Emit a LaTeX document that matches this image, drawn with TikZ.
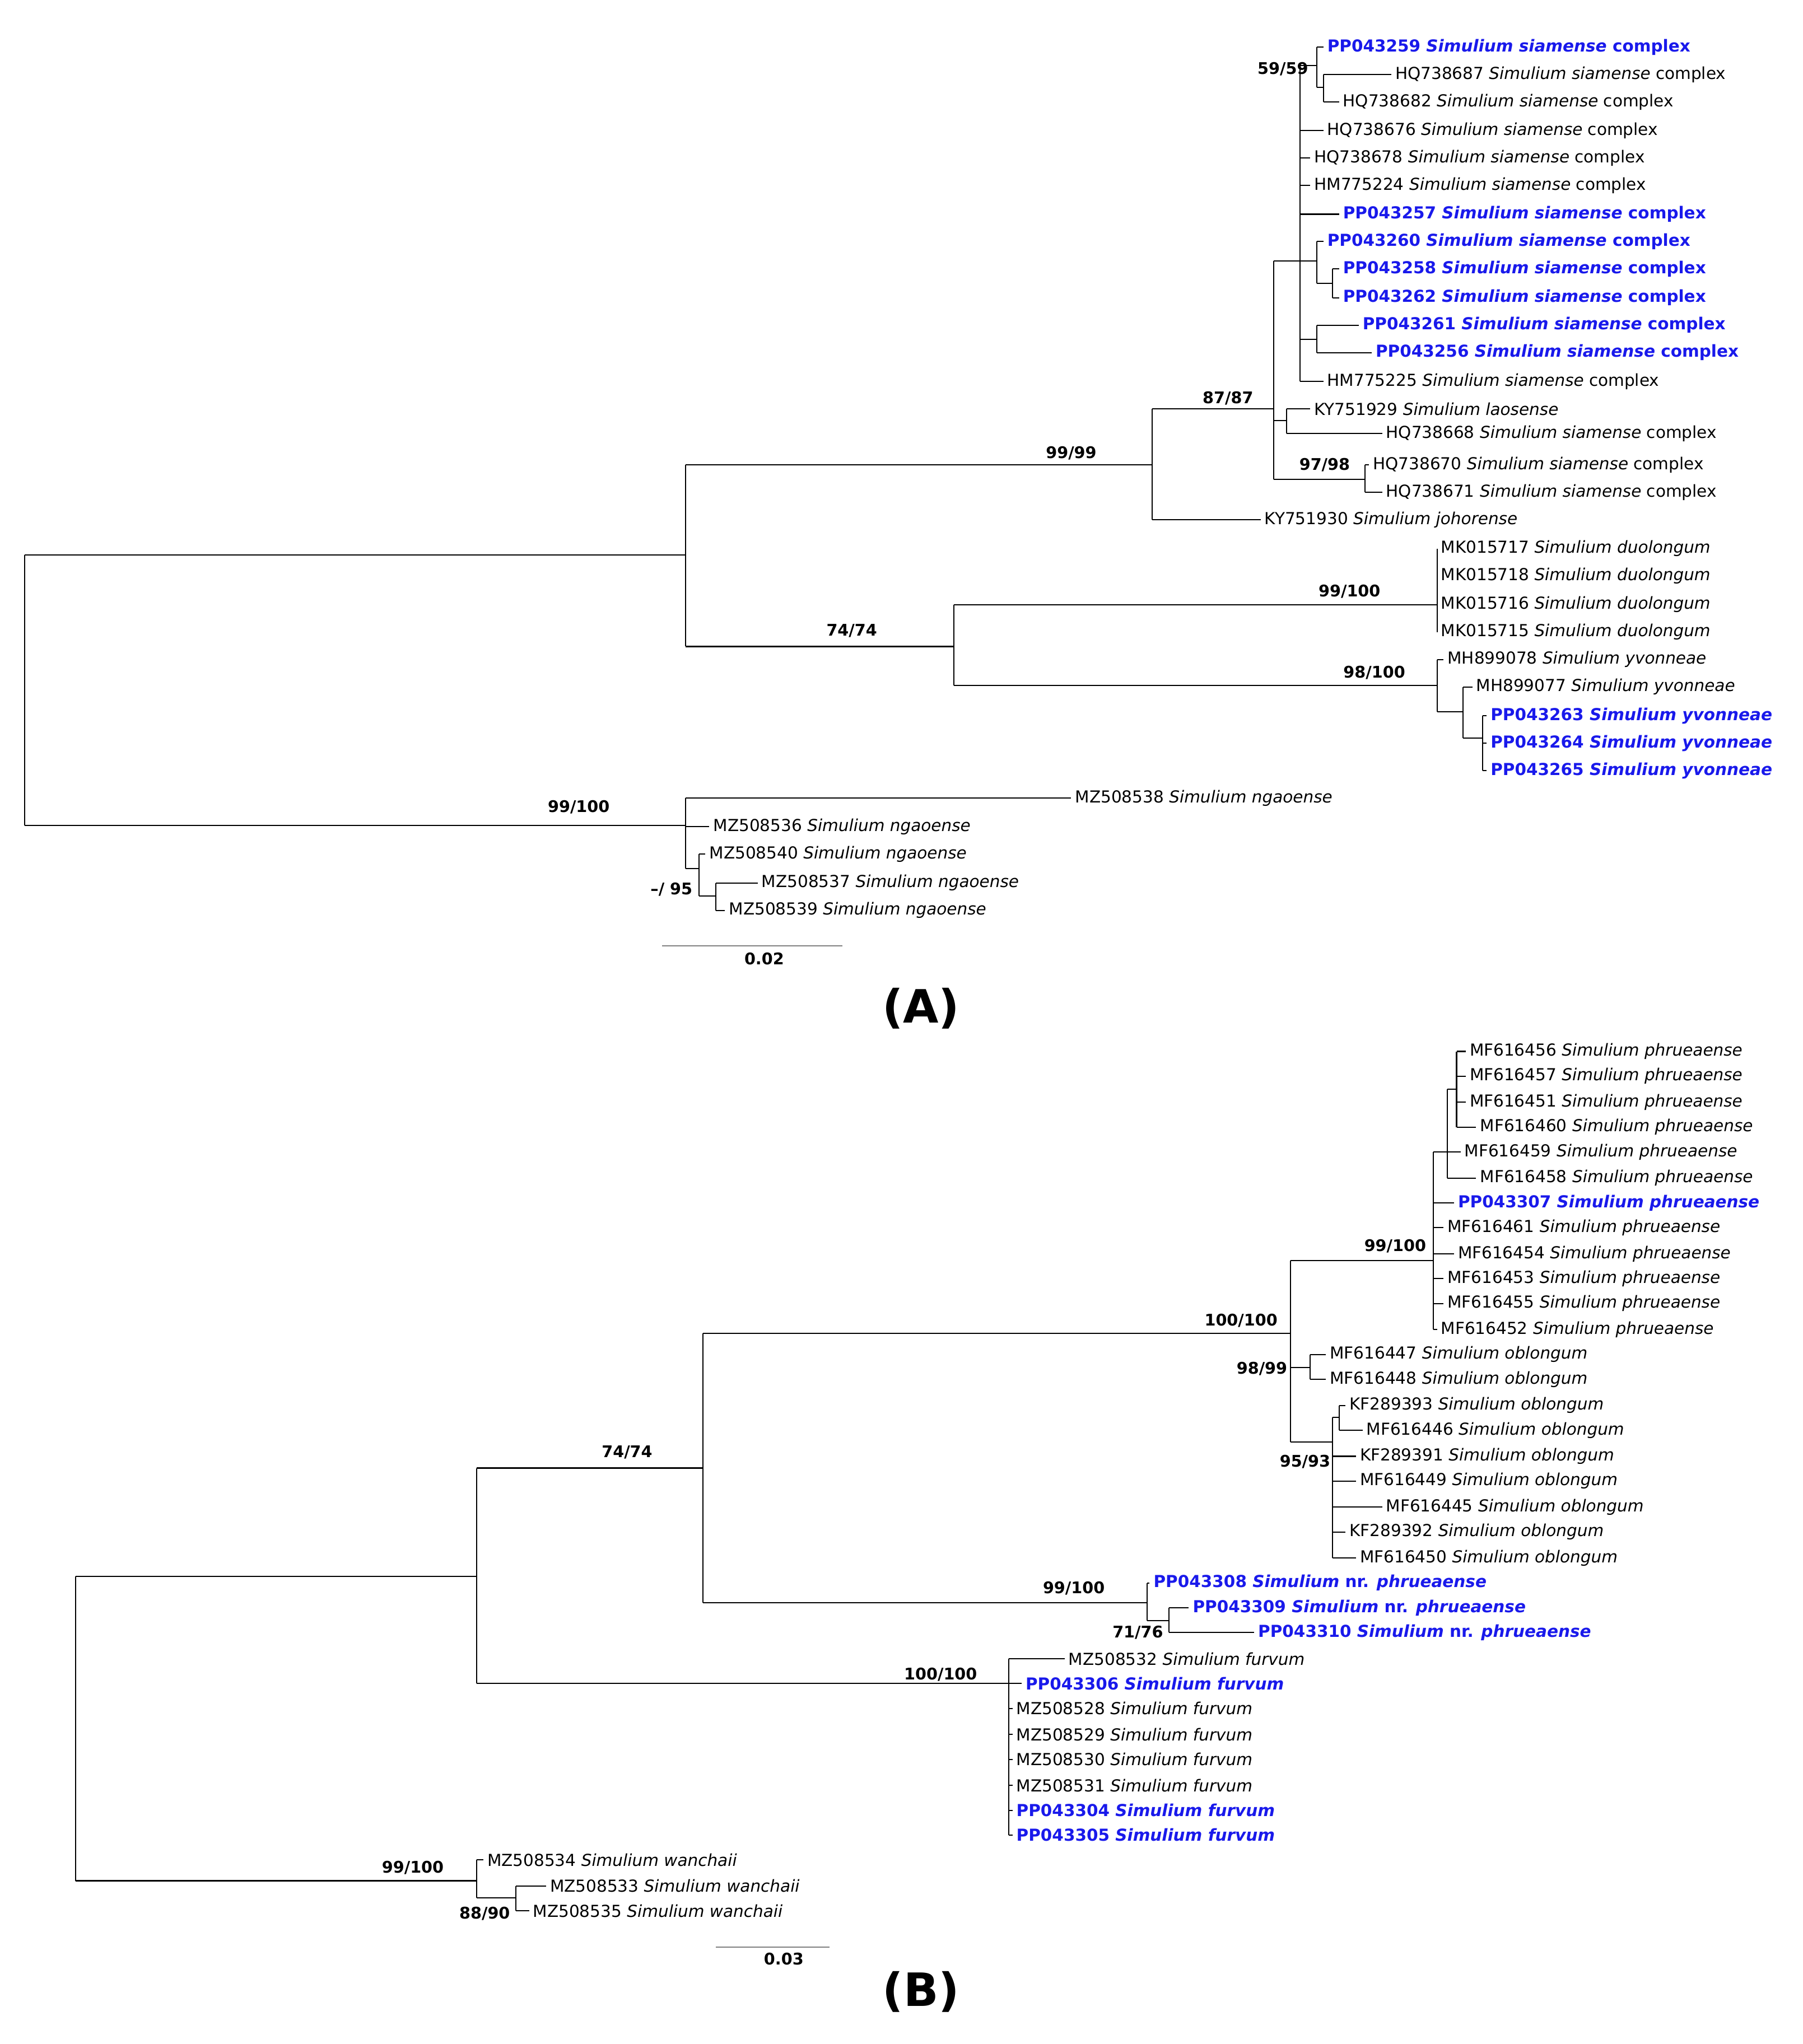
\documentclass[tikz,border=0pt]{standalone}
\usepackage{fontspec}
\setmainfont{DejaVu Sans}
\definecolor{pb}{RGB}{25,25,235}
\newcommand\hl[3]{\draw (#1,#3) -- (#2,#3);}
\newcommand\vl[3]{\draw (#1,#2) -- (#1,#3);}
\newcommand\lf[4]{\draw (#1,#3) -- (#2,#3) node[leaf]{#4};}
\newcommand\bl[4]{\draw (#1,#3) -- (#2,#3) node[leaf,text=pb,font=\fontsize{7.2}{8}\selectfont\bfseries]{#4};}
\newcommand\bs[3]{\node[boot] at (#1,#2) {#3};}
\begin{document}
\begin{tikzpicture}[x=0.02cm,y=-0.02cm,line width=0.5pt,
  leaf/.style={anchor=west,inner sep=1.5pt,font=\fontsize{7.2}{8}\selectfont},
  boot/.style={font=\fontsize{7}{8}\selectfont\bfseries,inner sep=0pt}]
\useasboundingbox (0,0) rectangle (1380,1565);
% ---------------- Tree A
\vl{19}{425}{632}\hl{19}{525}{425}\hl{19}{525}{632}
\vl{525}{356}{495}\hl{525}{882}{356}\hl{525}{730}{495}
\vl{882}{313}{398}\hl{882}{975}{313}
\lf{882}{965}{398}{KY751930 \textit{Simulium johorense}}
\vl{975}{200}{367}\hl{975}{995}{200}
\hl{975}{985}{322}\vl{985}{313}{332}
\lf{985}{1003}{313}{KY751929 \textit{Simulium laosense}}
\lf{985}{1058}{332}{HQ738668 \textit{Simulium siamense} complex}
\hl{975}{1045}{367}\vl{1045}{356}{377}
\lf{1045}{1048}{356}{HQ738670 \textit{Simulium siamense} complex}
\lf{1045}{1058}{377}{HQ738671 \textit{Simulium siamense} complex}
\vl{995}{50}{292}
\hl{995}{1008}{50}\vl{1008}{36}{67}
\bl{1008}{1013}{36}{PP043259 \textit{Simulium siamense} complex}
\hl{1008}{1013}{67}\vl{1013}{57}{78}
\lf{1013}{1065}{57}{HQ738687 \textit{Simulium siamense} complex}
\lf{1013}{1025}{78}{HQ738682 \textit{Simulium siamense} complex}
\lf{995}{1013}{100}{HQ738676 \textit{Simulium siamense} complex}
\lf{995}{1003}{121}{HQ738678 \textit{Simulium siamense} complex}
\lf{995}{1003}{142}{HM775224 \textit{Simulium siamense} complex}
\bl{995}{1025}{164}{PP043257 \textit{Simulium siamense} complex}
\hl{995}{1008}{200}\vl{1008}{185}{217}
\bl{1008}{1013}{185}{PP043260 \textit{Simulium siamense} complex}
\hl{1008}{1020}{217}\vl{1020}{206}{228}
\bl{1020}{1025}{206}{PP043258 \textit{Simulium siamense} complex}
\bl{1020}{1025}{228}{PP043262 \textit{Simulium siamense} complex}
\hl{995}{1008}{260}\vl{1008}{249}{270}
\bl{1008}{1040}{249}{PP043261 \textit{Simulium siamense} complex}
\bl{1008}{1050}{270}{PP043256 \textit{Simulium siamense} complex}
\lf{995}{1013}{292}{HM775225 \textit{Simulium siamense} complex}
\vl{730}{463}{525}\hl{730}{1100}{463}\hl{730}{1100}{525}
\vl{1100}{420}{484}
\lf{1100}{1100}{420}{MK015717 \textit{Simulium duolongum}}
\lf{1100}{1100}{441}{MK015718 \textit{Simulium duolongum}}
\lf{1100}{1100}{463}{MK015716 \textit{Simulium duolongum}}
\lf{1100}{1100}{484}{MK015715 \textit{Simulium duolongum}}
\vl{1100}{505}{545}
\lf{1100}{1105}{505}{MH899078 \textit{Simulium yvonneae}}
\hl{1100}{1120}{545}\vl{1120}{526}{565}
\lf{1120}{1127}{526}{MH899077 \textit{Simulium yvonneae}}
\hl{1120}{1135}{565}\vl{1135}{548}{590}
\bl{1135}{1138}{548}{PP043263 \textit{Simulium yvonneae}}
\bl{1135}{1138}{569}{PP043264 \textit{Simulium yvonneae}}
\bl{1135}{1138}{590}{PP043265 \textit{Simulium yvonneae}}
\vl{525}{611}{665}
\lf{525}{820}{611}{MZ508538 \textit{Simulium ngaoense}}
\lf{525}{543}{633}{MZ508536 \textit{Simulium ngaoense}}
\hl{525}{535}{665}\vl{535}{654}{686}
\lf{535}{540}{654}{MZ508540 \textit{Simulium ngaoense}}
\hl{535}{548}{686}\vl{548}{676}{697}
\lf{548}{580}{676}{MZ508537 \textit{Simulium ngaoense}}
\lf{548}{555}{697}{MZ508539 \textit{Simulium ngaoense}}
\bs{982}{53}{59/59}\bs{940}{305}{87/87}\bs{820}{347}{99/99}
\bs{652}{483}{74/74}\bs{443}{618}{99/100}\bs{1033}{453}{99/100}
\bs{1052}{515}{98/100}\bs{1014}{356}{97/98}\bs{514}{681}{–/ 95}
\draw[gray] (507,724) -- (645,724);
\bs{585}{734}{0.02}
\node[font=\fontsize{20}{24}\selectfont\bfseries] at (705,772) {(A)};
% ---------------- Tree B
\vl{58}{1207}{1440}\hl{58}{365}{1207}\hl{58}{365}{1440}
\vl{365}{1124}{1289}\hl{365}{538}{1124}\hl{365}{772}{1289}
\vl{538}{1021}{1227}\hl{538}{988}{1021}\hl{538}{878}{1227}
\vl{988}{965}{1104}\hl{988}{1097}{965}\hl{988}{1003}{1047}\hl{988}{1020}{1104}
\vl{1097}{882}{1018}
\hl{1097}{1108}{882}\vl{1108}{834}{902}
\hl{1108}{1115}{834}\vl{1115}{805}{863}
\lf{1115}{1122}{805}{MF616456 \textit{Simulium phrueaense}}
\lf{1115}{1122}{824}{MF616457 \textit{Simulium phrueaense}}
\lf{1115}{1122}{844}{MF616451 \textit{Simulium phrueaense}}
\lf{1115}{1130}{863}{MF616460 \textit{Simulium phrueaense}}
\lf{1108}{1118}{882}{MF616459 \textit{Simulium phrueaense}}
\lf{1108}{1130}{902}{MF616458 \textit{Simulium phrueaense}}
\bl{1097}{1113}{921}{PP043307 \textit{Simulium phrueaense}}
\lf{1097}{1105}{940}{MF616461 \textit{Simulium phrueaense}}
\lf{1097}{1113}{960}{MF616454 \textit{Simulium phrueaense}}
\lf{1097}{1105}{979}{MF616453 \textit{Simulium phrueaense}}
\lf{1097}{1105}{998}{MF616455 \textit{Simulium phrueaense}}
\lf{1097}{1100}{1018}{MF616452 \textit{Simulium phrueaense}}
\vl{1003}{1037}{1056}
\lf{1003}{1015}{1037}{MF616447 \textit{Simulium oblongum}}
\lf{1003}{1015}{1056}{MF616448 \textit{Simulium oblongum}}
\vl{1020}{1085}{1193}\hl{1020}{1025}{1085}\vl{1025}{1076}{1095}
\lf{1025}{1030}{1076}{KF289393 \textit{Simulium oblongum}}
\lf{1025}{1043}{1095}{MF616446 \textit{Simulium oblongum}}
\lf{1020}{1038}{1115}{KF289391 \textit{Simulium oblongum}}
\lf{1020}{1038}{1134}{MF616449 \textit{Simulium oblongum}}
\lf{1020}{1058}{1154}{MF616445 \textit{Simulium oblongum}}
\lf{1020}{1030}{1173}{KF289392 \textit{Simulium oblongum}}
\lf{1020}{1038}{1193}{MF616450 \textit{Simulium oblongum}}
\vl{878}{1212}{1241}
\bl{878}{880}{1212}{PP043308 \textit{Simulium} nr. \textit{phrueaense}}
\hl{878}{895}{1241}\vl{895}{1231}{1250}
\bl{895}{910}{1231}{PP043309 \textit{Simulium} nr. \textit{phrueaense}}
\bl{895}{960}{1250}{PP043310 \textit{Simulium} nr. \textit{phrueaense}}
\vl{772}{1270}{1405}
\lf{772}{815}{1270}{MZ508532 \textit{Simulium furvum}}
\bl{772}{782}{1289}{PP043306 \textit{Simulium furvum}}
\lf{772}{775}{1308}{MZ508528 \textit{Simulium furvum}}
\lf{772}{775}{1328}{MZ508529 \textit{Simulium furvum}}
\lf{772}{775}{1347}{MZ508530 \textit{Simulium furvum}}
\lf{772}{775}{1367}{MZ508531 \textit{Simulium furvum}}
\bl{772}{775}{1386}{PP043304 \textit{Simulium furvum}}
\bl{772}{775}{1405}{PP043305 \textit{Simulium furvum}}
\vl{365}{1424}{1453}
\lf{365}{370}{1424}{MZ508534 \textit{Simulium wanchaii}}
\hl{365}{395}{1453}\vl{395}{1444}{1463}
\lf{395}{418}{1444}{MZ508533 \textit{Simulium wanchaii}}
\lf{395}{405}{1463}{MZ508535 \textit{Simulium wanchaii}}
\bs{1068}{954}{99/100}\bs{950}{1011}{100/100}\bs{966}{1048}{98/99}
\bs{999}{1119}{95/93}\bs{480}{1112}{74/74}\bs{822}{1216}{99/100}
\bs{871}{1250}{71/76}\bs{720}{1282}{100/100}\bs{316}{1430}{99/100}
\bs{371}{1465}{88/90}
\draw[gray] (548,1491) -- (635,1491);
\bs{600}{1500}{0.03}
\node[font=\fontsize{20}{24}\selectfont\bfseries] at (705,1525) {(B)};
\end{tikzpicture}
\end{document}
